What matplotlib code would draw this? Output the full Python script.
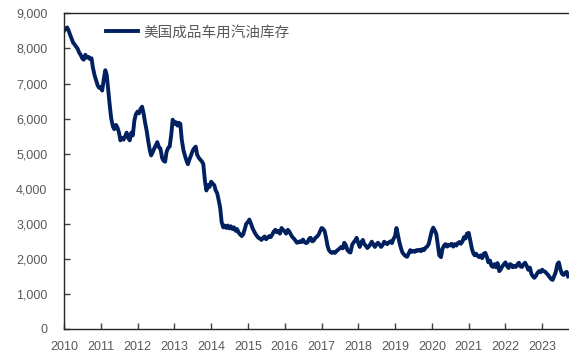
import matplotlib
matplotlib.use("Agg")
import matplotlib.pyplot as plt
import matplotlib.dates as mdates
import pandas as pd
from matplotlib.ticker import FuncFormatter

plt.rcParams['font.family'] = ['Liberation Sans', 'Noto Sans CJK SC']

series_name = "美国成品车用汽油库存"

# semi-monthly readings, thousand barrels, from Jan 2010
stock = [
    # 2010
    8500, 8560, 8600, 8520, 8400, 8300, 8170, 8120, 8050, 8000, 7880, 7820,
    7720, 7680, 7820, 7740, 7760, 7700, 7720, 7450, 7230, 7100, 6950, 6880,
    # 2011
    6900, 6800, 7150, 7380, 7250, 6850, 6350, 6000, 5780, 5700, 5820, 5750,
    5600, 5380, 5450, 5400, 5500, 5600, 5450, 5380, 5600, 5520, 5950, 6120,
    # 2012
    6200, 6150, 6280, 6340, 6150, 5900, 5650, 5380, 5110, 4950, 5050, 5150,
    5250, 5330, 5180, 5150, 4880, 4800, 4770, 5050, 5170, 5200, 5550, 5970,
    # 2013
    5850, 5900, 5800, 5880, 5850, 5400, 5100, 4950, 4800, 4700, 4850, 4950,
    5080, 5150, 5200, 4970, 4880, 4830, 4780, 4700, 4200, 3950, 4100, 4050,
    # 2014
    4200, 4150, 4100, 3950, 3880, 3700, 3450, 3050, 2900, 2950, 2880, 2950,
    2870, 2930, 2850, 2900, 2800, 2850, 2750, 2700, 2650, 2700, 2850, 3000,
    # 2015
    3050, 3120, 3000, 2880, 2800, 2720, 2650, 2600, 2580, 2540, 2600, 2640,
    2560, 2600, 2650, 2620, 2700, 2780, 2830, 2760, 2800, 2720, 2880, 2830,
    # 2016
    2780, 2720, 2830, 2780, 2700, 2630, 2580, 2530, 2460, 2470, 2500, 2480,
    2550, 2480, 2450, 2470, 2580, 2600, 2500, 2520, 2600, 2630, 2680, 2770,
    # 2017
    2880, 2860, 2790, 2600, 2380, 2250, 2190, 2170, 2200, 2170, 2230, 2260,
    2300, 2340, 2300, 2460, 2380, 2250, 2200, 2180, 2400, 2470, 2520, 2600,
    # 2018
    2450, 2340, 2480, 2540, 2420, 2380, 2310, 2350, 2420, 2490, 2400, 2340,
    2420, 2460, 2400, 2340, 2400, 2490, 2450, 2420, 2470, 2500, 2450, 2560,
    # 2019
    2650, 2880, 2650, 2450, 2300, 2180, 2120, 2080, 2060, 2150, 2250, 2200,
    2230, 2200, 2250, 2230, 2260, 2220, 2280, 2250, 2320, 2350, 2420, 2600,
    # 2020
    2800, 2890, 2800, 2700, 2400, 2100, 2050, 2280, 2380, 2420, 2350, 2400,
    2380, 2430, 2350, 2420, 2380, 2450, 2480, 2430, 2500, 2620, 2580, 2720,
    # 2021
    2740, 2550, 2300, 2170, 2100, 2150, 2080, 2050, 2100, 2020, 2150, 2170,
    2050, 1900, 1950, 1800, 1770, 1850, 1760, 1880, 1650, 1700, 1790, 1840,
    # 2022
    1900, 1800, 1740, 1850, 1830, 1760, 1800, 1770, 1850, 1890, 1780, 1770,
    1850, 1890, 1800, 1690, 1750, 1580, 1500, 1460, 1520, 1600, 1650, 1620,
    # 2023
    1690, 1650, 1630, 1580, 1540, 1480, 1420, 1400, 1520, 1620, 1850, 1900,
    1700, 1580, 1540, 1600, 1630, 1500,
]
dates = pd.date_range("2010-01-01", periods=len(stock), freq="SMS")

y_ticks = [0, 1000, 2000, 3000, 4000, 5000, 6000, 7000, 8000, 9000]
year_ticks = list(range(2010, 2024))

fig = plt.figure(figsize=(5.69, 3.53), dpi=100)
ax = fig.add_axes([0.1125, 0.068, 0.8875, 0.894])

ax.plot(dates, stock, color="#002060", linewidth=2.8, label=series_name,
        solid_joinstyle="round")

ax.set_ylim(0, 9000)
ax.set_yticks(y_ticks)
ax.yaxis.set_major_formatter(FuncFormatter(lambda v, p: "{:,.0f}".format(v)))
ax.set_xlim(pd.Timestamp("2010-01-01"), pd.Timestamp("2023-09-24"))
ax.set_xticks([pd.Timestamp(f"{y}-01-01") for y in year_ticks])
ax.xaxis.set_major_formatter(mdates.DateFormatter("%Y"))

ax.tick_params(axis="both", direction="in", length=4, width=1,
               labelsize=9, labelcolor="#595959", color="#404040")
ax.tick_params(axis="y", pad=12)
ax.tick_params(axis="x", pad=9)
for side in ["left", "bottom", "top"]:
    ax.spines[side].set_color("#262626")
    ax.spines[side].set_linewidth(1.0)
ax.spines["right"].set_visible(False)

ax.legend(loc="center left", bbox_to_anchor=(0.083, 0.94), frameon=False,
          borderpad=0, borderaxespad=0, handlelength=2.2, handletextpad=0.35,
          prop={"size": 10.5}, labelcolor="#595959")

fig.savefig("out.png", dpi=100)
